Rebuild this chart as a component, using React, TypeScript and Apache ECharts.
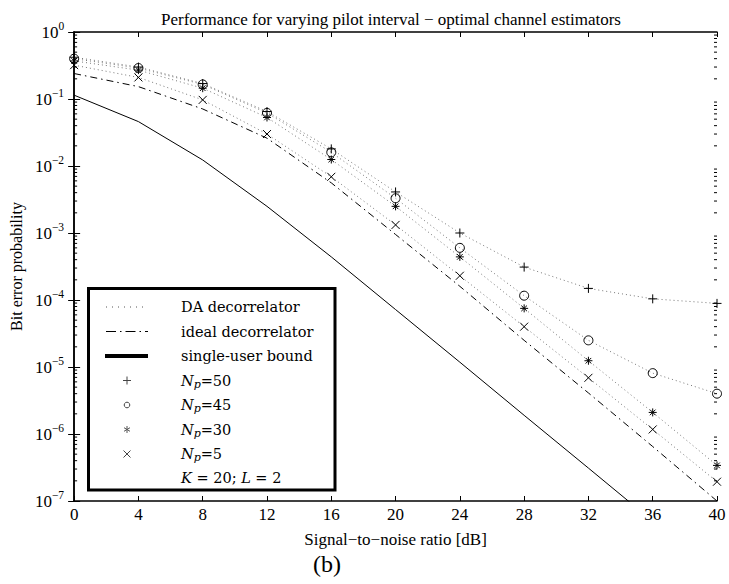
import React, { useEffect, useRef } from "react";
import * as echarts from "echarts";

const snr = [0, 4, 8, 12, 16, 20, 24, 28, 32, 36, 40];
const np50 = [0.42, 0.3, 0.17, 0.065, 0.018, 4.1e-3, 1.0e-3, 3.1e-4, 1.49e-4, 1.04e-4, 8.9e-5];
const np45 = [0.4, 0.29, 0.165, 0.062, 0.016, 3.3e-3, 6.0e-4, 1.16e-4, 2.5e-5, 8.1e-6, 4.0e-6];
const np30 = [0.37, 0.27, 0.145, 0.053, 0.0125, 2.5e-3, 4.4e-4, 7.5e-5, 1.24e-5, 2.1e-6, 3.4e-7];
const np5 = [0.32, 0.21, 0.097, 0.03, 0.0069, 1.32e-3, 2.3e-4, 4.0e-5, 6.9e-6, 1.17e-6, 1.94e-7];
const ideal = [0.24, 0.153, 0.071, 0.026, 5.6e-3, 9.5e-4, 1.6e-4, 2.5e-5, 4.1e-6, 6.5e-7, 1.0e-7];
const singleUser = [0.114, 0.046, 0.0123, 2.5e-3, 4.4e-4, 7.2e-5, 1.18e-5, 1.9e-6, 3.1e-7, 5.0e-8, 8.1e-9];
const xTicks = { min: 0, max: 40, interval: 4 };
const yDecades = [-7, -6, -5, -4, -3, -2, -1, 0];

const FONT = "'Liberation Serif', 'Times New Roman', serif";
const LFONT = "'DejaVu Serif', serif";

const SYM_PLUS = "path://M5,0L5,10M0,5L10,5";
const SYM_X = "path://M0,0L10,10M0,10L10,0";
const SYM_STAR = "path://M5,0L5,10M0,5L10,5M1.5,1.5L8.5,8.5M1.5,8.5L8.5,1.5";

const pairs = (ys: number[]) => snr.map((x, i) => [x, ys[i]]);

const minorVals: number[] = [];
for (let n = yDecades[0]; n < yDecades[yDecades.length - 1]; n++) {
  for (let k = 2; k <= 9; k++) minorVals.push(k * Math.pow(10, n));
}

export default function App() {
  const ref = useRef<HTMLDivElement>(null);
  useEffect(() => {
    document.body.style.margin = "0";
    if (!ref.current) return;
    const chart = echarts.init(ref.current, null, { renderer: "svg" });

    const daLine = (name: string, data: number[], symbol: string, size: number) => ({
      type: "line",
      name,
      data: pairs(data),
      symbol,
      symbolSize: size,
      symbolKeepAspect: true,
      showSymbol: true,
      lineStyle: { color: "#777", width: 1, type: [1, 3] },
      itemStyle: { color: "none", borderColor: "#000", borderWidth: 1 },
      z: 3,
    });

    const rowY = [307, 331.5, 356, 380.5, 405, 429.5, 454, 478];
    const mx = 127;
    const tx = 181;
    const LFS = 14.5;
    const lstroke = { stroke: "#000", lineWidth: 1 };
    const legendText = (y: number, text: string, rich?: any) => ({
      type: "text",
      x: tx,
      y,
      style: {
        text,
        fontFamily: LFONT,
        fontSize: LFS,
        fill: "#000",
        verticalAlign: "middle",
        align: "left",
        rich,
      },
    });
    const npRich = {
      i: { fontFamily: LFONT, fontStyle: "italic", fontSize: LFS },
      s: { fontFamily: LFONT, fontStyle: "italic", fontSize: 11, padding: [7, 0, 0, 0] },
      n: { fontFamily: LFONT, fontSize: LFS },
    };

    const option: any = {
      animation: false,
      grid: { left: 62, right: 12, top: 32, bottom: 83 },
      xAxis: [
        {
          type: "value",
          min: xTicks.min,
          max: xTicks.max,
          interval: xTicks.interval,
          name: "Signal\u2212to\u2212noise ratio [dB]",
          nameLocation: "middle",
          nameGap: 30,
          nameTextStyle: { fontFamily: FONT, fontSize: 17, color: "#000" },
          axisLine: { show: true, lineStyle: { color: "#000", width: 1.5 } },
          axisTick: { show: true, inside: true, length: 5, lineStyle: { color: "#000" } },
          axisLabel: { fontFamily: FONT, fontSize: 17, color: "#000", margin: 5 },
          splitLine: { show: false },
        },
        {
          type: "value",
          position: "top",
          min: xTicks.min,
          max: xTicks.max,
          interval: xTicks.interval,
          axisLine: { show: true, lineStyle: { color: "#000", width: 1.5 } },
          axisTick: { show: true, inside: true, length: 5, lineStyle: { color: "#000" } },
          axisLabel: { show: false },
          splitLine: { show: false },
        },
      ],
      yAxis: [
        {
          type: "log",
          logBase: 10,
          min: Math.pow(10, yDecades[0]),
          max: Math.pow(10, yDecades[yDecades.length - 1]),
          name: "Bit error probability",
          nameLocation: "middle",
          nameGap: 47,
          nameTextStyle: { fontFamily: FONT, fontSize: 16, color: "#000" },
          axisLine: { show: true, lineStyle: { color: "#000", width: 1.5 } },
          axisTick: { show: true, inside: true, length: 6, lineStyle: { color: "#000" } },
          axisLabel: {
            margin: 10,
            formatter: (v: number) => {
              const e = Math.round(Math.log10(v));
              return `{b|10}{s|${e === 0 ? "0" : "\u2212" + -e}}`;
            },
            rich: {
              b: { fontFamily: FONT, fontSize: 17, color: "#000" },
              s: { fontFamily: FONT, fontSize: 11.5, color: "#000", padding: [0, 0, 12, 0] },
            },
          },
          splitLine: { show: false },
        },
        {
          type: "log",
          logBase: 10,
          position: "right",
          min: Math.pow(10, yDecades[0]),
          max: Math.pow(10, yDecades[yDecades.length - 1]),
          axisLine: { show: true, lineStyle: { color: "#000", width: 1.5 } },
          axisTick: { show: true, inside: true, length: 6, lineStyle: { color: "#000" } },
          axisLabel: { show: false },
          splitLine: { show: false },
        },
      ],
      series: [
        {
          type: "custom",
          silent: true,
          data: minorVals.map((v) => [0, v]),
          encode: { x: 0, y: 1 },
          clip: false,
          renderItem: (params: any, api: any) => {
            const v = api.value(1);
            const p = api.coord([xTicks.min, v]);
            const q = api.coord([xTicks.max, v]);
            return {
              type: "group",
              children: [
                { type: "line", shape: { x1: p[0], y1: p[1], x2: p[0] + 3, y2: p[1] }, style: lstroke },
                { type: "line", shape: { x1: q[0], y1: q[1], x2: q[0] - 3, y2: q[1] }, style: lstroke },
              ],
            };
          },
        },
        {
          type: "line",
          name: "single-user bound",
          data: pairs(singleUser),
          symbol: "none",
          lineStyle: { color: "#000", width: 1 },
          z: 2,
        },
        {
          type: "line",
          name: "ideal decorrelator",
          data: pairs(ideal),
          symbol: "none",
          lineStyle: { color: "#000", width: 1, type: [7, 4, 1.5, 4] },
          z: 2,
        },
        daLine("Np=50", np50, SYM_PLUS, 9),
        daLine("Np=45", np45, "circle", 9),
        daLine("Np=30", np30, SYM_STAR, 8),
        daLine("Np=5", np5, SYM_X, 8),
      ],
      graphic: [
        {
          type: "text",
          x: 391,
          y: 19,
          style: {
            text: "Performance for varying pilot interval \u2212 optimal channel estimators",
            fontFamily: FONT,
            fontSize: 17,
            fill: "#000",
            align: "center",
            verticalAlign: "middle",
          },
        },
        {
          type: "text",
          x: 327,
          y: 564,
          style: {
            text: "(b)",
            fontFamily: FONT,
            fontSize: 24,
            fill: "#000",
            align: "center",
            verticalAlign: "middle",
          },
        },
        {
          type: "group",
          z: 100,
          children: [
            {
              type: "rect",
              shape: { x: 88.5, y: 288.5, width: 246.5, height: 201.5 },
              style: { fill: "#fff", stroke: "#000", lineWidth: 3 },
            },
            {
              type: "line",
              shape: { x1: 106, y1: rowY[0], x2: 143, y2: rowY[0] },
              style: { stroke: "#555", lineWidth: 1, lineDash: [1, 5] },
            },
            {
              type: "line",
              shape: { x1: 106, y1: rowY[1], x2: 148, y2: rowY[1] },
              style: { stroke: "#000", lineWidth: 1, lineDash: [10, 4, 1.5, 4] },
            },
            {
              type: "line",
              shape: { x1: 105, y1: rowY[2], x2: 148, y2: rowY[2] },
              style: { stroke: "#000", lineWidth: 4 },
            },
            {
              type: "line",
              shape: { x1: mx - 4, y1: rowY[3], x2: mx + 4, y2: rowY[3] },
              style: { stroke: "#444", lineWidth: 1 },
            },
            {
              type: "line",
              shape: { x1: mx, y1: rowY[3] - 4, x2: mx, y2: rowY[3] + 4 },
              style: { stroke: "#444", lineWidth: 1 },
            },
            {
              type: "circle",
              shape: { cx: mx, cy: rowY[4], r: 2.8 },
              style: { fill: "none", stroke: "#444", lineWidth: 1 },
            },
            {
              type: "line",
              shape: { x1: mx, y1: rowY[5] - 3.5, x2: mx, y2: rowY[5] + 3.5 },
              style: { stroke: "#555", lineWidth: 1 },
            },
            {
              type: "line",
              shape: { x1: mx - 3, y1: rowY[5] - 1.8, x2: mx + 3, y2: rowY[5] + 1.8 },
              style: { stroke: "#555", lineWidth: 1 },
            },
            {
              type: "line",
              shape: { x1: mx - 3, y1: rowY[5] + 1.8, x2: mx + 3, y2: rowY[5] - 1.8 },
              style: { stroke: "#555", lineWidth: 1 },
            },
            {
              type: "line",
              shape: { x1: mx - 3.5, y1: rowY[6] - 3.5, x2: mx + 3.5, y2: rowY[6] + 3.5 },
              style: { stroke: "#444", lineWidth: 1 },
            },
            {
              type: "line",
              shape: { x1: mx - 3.5, y1: rowY[6] + 3.5, x2: mx + 3.5, y2: rowY[6] - 3.5 },
              style: { stroke: "#444", lineWidth: 1 },
            },
            legendText(rowY[0], "DA decorrelator"),
            legendText(rowY[1], "ideal decorrelator"),
            legendText(rowY[2], "single-user bound"),
            legendText(rowY[3], "{i|N}{s|p}{n|=50}", npRich),
            legendText(rowY[4], "{i|N}{s|p}{n|=45}", npRich),
            legendText(rowY[5], "{i|N}{s|p}{n|=30}", npRich),
            legendText(rowY[6], "{i|N}{s|p}{n|=5}", npRich),
            legendText(rowY[7], "{i|K}{n| = 20; }{i|L}{n| = 2}", npRich),
          ],
        },
      ],
    };
    chart.setOption(option);
    return () => chart.dispose();
  }, []);
  return <div ref={ref} style={{ width: 729, height: 584 }} />;
}
